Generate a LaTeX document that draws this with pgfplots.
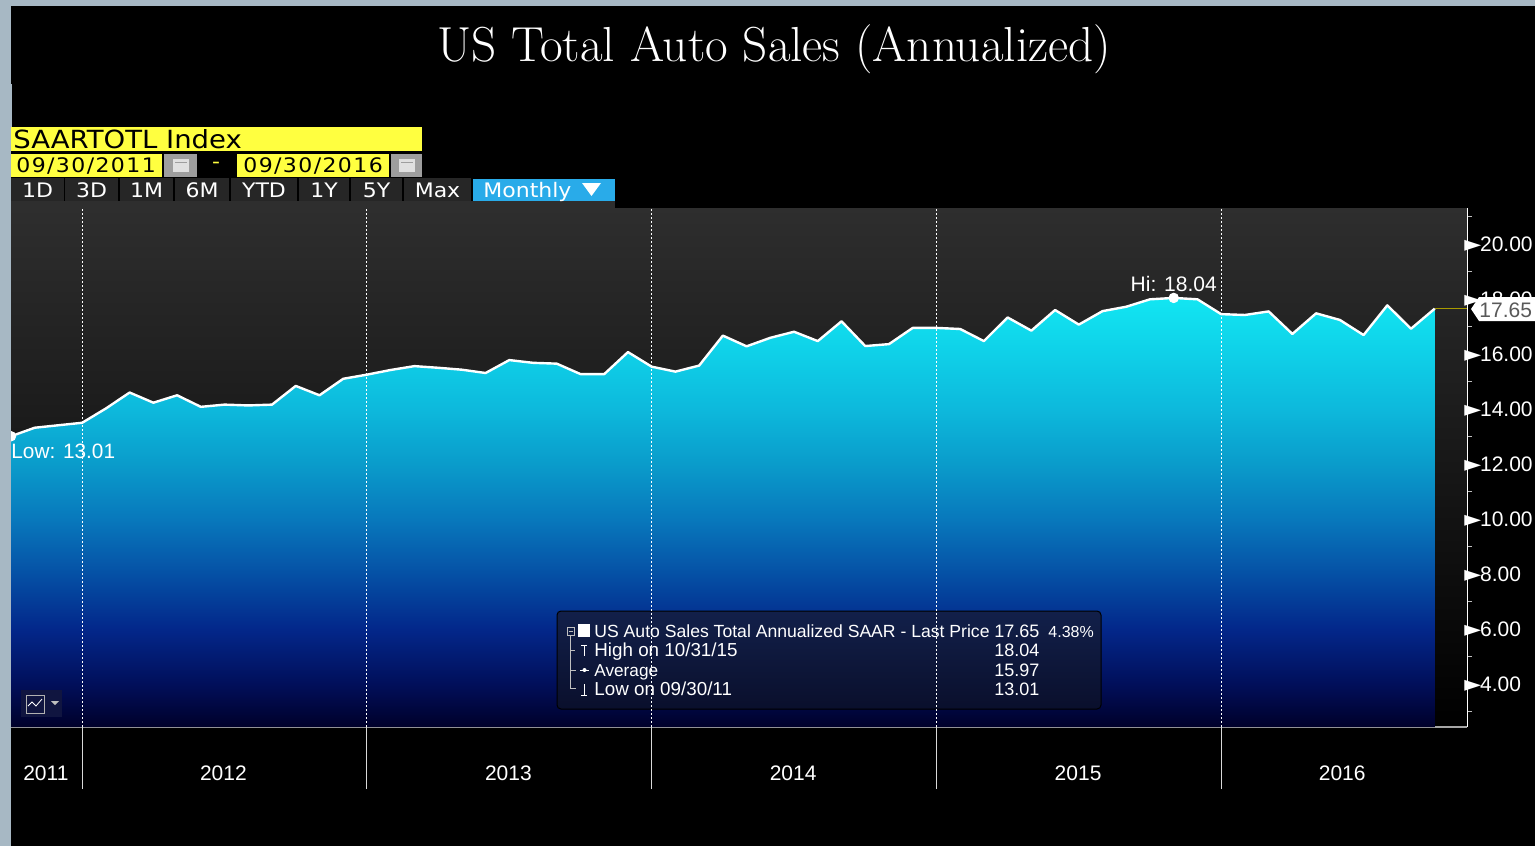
\documentclass[border=0pt]{standalone}
\usepackage{fontspec}
\usepackage{pgfplots}
\usepackage{pgfplotstable}
\pgfplotsset{compat=1.18}
\newfontfamily\chartfont{Liberation Sans}
\newfontfamily\uifont[FakeStretch=1.1]{DejaVu Sans}
\newfontfamily\symfont{DejaVu Sans}
\definecolor{strip}{HTML}{A7B8C4}
\definecolor{uiyellow}{HTML}{FFFF40}
\definecolor{uiblue}{HTML}{29ABE9}
\definecolor{btn}{HTML}{262626}
\definecolor{lastline}{HTML}{A89A00}
\definecolor{legtop}{HTML}{12204A}
\definecolor{legbot}{HTML}{0A0F2C}
\definecolor{btnblue}{HTML}{101540}
\definecolor{fa}{RGB}{0,0,42}
\definecolor{fb}{RGB}{1,15,90}
\definecolor{fc}{RGB}{3,39,138}
\definecolor{fd}{RGB}{5,80,165}
\definecolor{fe}{RGB}{8,120,188}
\definecolor{ff}{RGB}{10,156,203}
\definecolor{fg}{RGB}{13,185,220}
\definecolor{fh}{RGB}{15,208,232}
\definecolor{fi}{RGB}{18,230,242}
\pgfdeclareverticalshading{areafade}{100bp}{
  color(0bp)=(fa);
  color(25bp)=(fa);
  color(30bp)=(fb);
  color(36.4bp)=(fc);
  color(42.8bp)=(fd);
  color(49.2bp)=(fe);
  color(55.7bp)=(ff);
  color(62.1bp)=(fg);
  color(68.5bp)=(fh);
  color(75bp)=(fi);
  color(100bp)=(fi)
}
% month index from 09/2011, bottom corners added for the filled area
\pgfplotstableread{
x y
0 2.436
0 13.01
1 13.32
2 13.41
3 13.50
4 14.02
5 14.60
6 14.23
7 14.50
8 14.08
9 14.16
10 14.13
11 14.16
12 14.84
13 14.50
14 15.10
15 15.25
16 15.42
17 15.56
18 15.50
19 15.43
20 15.31
21 15.78
22 15.68
23 15.65
24 15.27
25 15.27
26 16.07
27 15.54
28 15.36
29 15.58
30 16.67
31 16.28
32 16.59
33 16.81
34 16.47
35 17.19
36 16.29
37 16.36
38 16.95
39 16.95
40 16.91
41 16.47
42 17.33
43 16.85
44 17.60
45 17.07
46 17.56
47 17.72
48 17.99
49 18.04
50 17.99
51 17.45
52 17.42
53 17.55
54 16.73
55 17.48
56 17.24
57 16.69
58 17.77
59 16.92
60 17.65
60 2.436
}\saar
\pgfplotsset{
  frame/.style={
    at={(5.5pt,-363.5pt)}, anchor=south west, scale only axis,
    width=728pt, height=259.5pt,
    xmin=0, xmax=61.36, ymin=2.436, ymax=21.31,
  },
}
\begin{document}
\begin{tikzpicture}[x=0.5pt,y=-0.5pt]
\path[use as bounding box] (0,0) rectangle (1535,846);
\fill[black] (0,0) rectangle (1535,846);
\node[white,font=\fontsize{24.6}{29}\selectfont\addfontfeatures{LetterSpace=3,FakeBold=1.5}] at (774,49) {US Total Auto Sales (Annualized)};

\begin{axis}[frame,
  axis background/.style={shade, top color=black!82, bottom color=black},
  axis x line=bottom, axis y line=right,
  x axis line style={-, draw=black!35, line width=1pt},
  y axis line style={-, draw=white, line width=.5pt},
  tick align=outside,
  major tick length=0pt, minor tick length=2.5pt,
  minor tick style={white!75!black, line width=.5pt},
  xtick=\empty,
  minor xtick={6,9,12,18,21,24,30,33,36,42,45,48,54,57,60},
  extra x ticks={1.47,8.95,20.96,32.96,44.97,56.1},
  extra x tick labels={2011,2012,2013,2014,2015,2016},
  extra x tick style={major tick length=0pt},
  xticklabel style={white, font=\chartfont\fontsize{10.5}{12}\selectfont, yshift=-16pt},
  ytick={4,6,...,20},
  yticklabel={\smash{\makebox[0pt][r]{\symfont\fontsize{11}{12}\selectfont\char"25BA\kern-.6pt}}\pgfmathprintnumber[fixed,fixed zerofill,precision=2,assume math mode=true]{\tick}},
  minor ytick={3,5,...,21},
  yticklabel style={white, font=\chartfont\fontsize{10.5}{12}\selectfont, anchor=west, xshift=3pt},
]
\addplot[shade, shading=areafade, draw=none] table {\saar};
\addplot[draw=lastline, line width=.7pt, forget plot] coordinates {(60,17.65) (61.36,17.65)};
\addplot[white, line width=1.2pt, line join=round,
  skip coords between index={0}{1}, skip coords between index={62}{63}] table {\saar};
\addplot[only marks, mark=*, mark size=2.4pt, white] coordinates {(0,13.01) (49,18.04)};
\node[white, font=\chartfont\fontsize{10.5}{12}\selectfont] at (axis cs:49,18.53) {Hi: 18.04};
\node[white, font=\chartfont\fontsize{10.4}{12}\selectfont, anchor=west, inner sep=0pt] at (axis cs:0,12.47) {Low: 13.01};
\end{axis}

% window edge, over the half dot at the low
\fill[strip] (0,0) rectangle (1535,6);
\fill[strip] (0,0) rectangle (11,846);
\fill[strip] (11,84) rectangle (12,127);

% panel above the plot, behind the range buttons
\fill[black!82] (11,201) rectangle (615,208);

% legend box under the grid
\draw[black, line width=.5pt, rounded corners=2pt, top color=legtop, bottom color=legbot]
  (557,611) rectangle (1101,709);

\begin{axis}[frame, hide y axis,
  axis x line=bottom, x axis line style={draw=none},
  tick align=outside, major tick length=31pt,
  xtick={3,15,27,39,51}, xticklabels={},
  major tick style={white!85!black, line width=.5pt},
  xmajorgrids,
  grid style={white, line width=.5pt, dash pattern=on 1pt off 1pt},
]
\end{axis}

% last value flag
\fill[white] (1471,309) -- (1479,297) -- (1535,297) -- (1535,321) -- (1479,321) -- cycle;
\node[black!65, font=\chartfont\fontsize{10.5}{12}\selectfont, anchor=west, inner sep=0pt] at (1479,310) {17.65};

% legend text
\begin{scope}[white, inner sep=0pt]
\foreach \yy/\ss/\aa/\bb in {637/8.8/US Auto Sales Total Annualized SAAR - Last Price/17.65,
  656.5/9.4/High on 10\slash 31\slash 15/18.04, 676/8.6/Average/15.97, 695.5/9.4/Low on 09\slash 30\slash 11/13.01}{
  \node[anchor=base west, font=\chartfont\fontsize{\ss}{11}\selectfont] at (594,\yy) {\aa};
  \node[anchor=base west, font=\chartfont\fontsize{9}{11}\selectfont] at (994,\yy) {\bb};
}
\node[anchor=base west, font=\chartfont\fontsize{8}{11}\selectfont] at (1048,637) {4.38\%};
\end{scope}
\fill[white] (578,624) rectangle (590,637);
\draw[white!75!black, line width=.4pt] (567,627) rectangle (574,635) (568.5,631) -- (572.5,631);
\draw[white!75!black, line width=.4pt] (570,635) -- (570,688) -- (576,688) (570,650) -- (575,650) (570,670) -- (576,670);
\draw[white, line width=.4pt] (581,645) -- (587,645) (584,645) -- (584,656);
\draw[white, line width=.4pt] (580,670) -- (589,670);
\fill[white] (584.5,670) circle (2);
\draw[white, line width=.4pt] (584,684) -- (584,695) (581,695) -- (587,695);

% chart type button
\fill[btnblue] (21,690) rectangle (62,717);
\draw[white!70!black, line width=.5pt] (26,695) rectangle (44,713);
\draw[white, line width=.4pt] (28,706) -- (32,702) -- (36,706) -- (42,699);
\fill[white!75!black] (51,701) -- (59,701) -- (55,705) -- cycle;

% date and range controls
\fill[uiyellow] (11,127) rectangle (422,151);
\node[black, font=\uifont\fontsize{12.5}{14}\selectfont, anchor=west, inner sep=0pt] at (13,139) {SAARTOTL Index};
\fill[uiyellow] (11,154) rectangle (162,177);
\fill[uiyellow] (237,154) rectangle (389,177);
\node[black, font=\uifont\fontsize{10}{12}\selectfont\addfontfeatures{LetterSpace=7}, anchor=west, inner sep=0pt] at (16,166) {09/30/2011};
\node[black, font=\uifont\fontsize{10}{12}\selectfont\addfontfeatures{LetterSpace=7}, anchor=west, inner sep=0pt] at (243,166) {09/30/2016};
\node[uiyellow, font=\uifont\fontsize{10}{12}\selectfont] at (216,165) {-};
\foreach \a/\b in {164/197,391/422}{
  \fill[white!62!black] (\a,154) rectangle (\b,177);
  \fill[white!88!black] ({(\a+\b)/2-8},159) rectangle ({(\a+\b)/2+8},172);
  \fill[white!62!black] ({(\a+\b)/2-6},162) rectangle ({(\a+\b)/2+6},163);
}
\foreach \a/\b/\t in {11/64/1D,65/118/3D,120/173/1M,175/229/6M,231/297/YTD,299/349/1Y,351/402/5Y,404/471/Max}{
  \fill[btn] (\a,178) rectangle (\b,201);
  \node[white, font=\uifont\fontsize{10}{12}\selectfont, inner sep=0pt] at ({(\a+\b)/2},190) {\t};
}
\fill[uiblue] (473,179) rectangle (615,201);
\node[white, font=\uifont\fontsize{10}{12}\selectfont, anchor=base west, inner sep=0pt] at (483,197) {Monthly};
\fill[white] (582,183) -- (601,183) -- (591.5,196) -- cycle;
\end{tikzpicture}
\end{document}
